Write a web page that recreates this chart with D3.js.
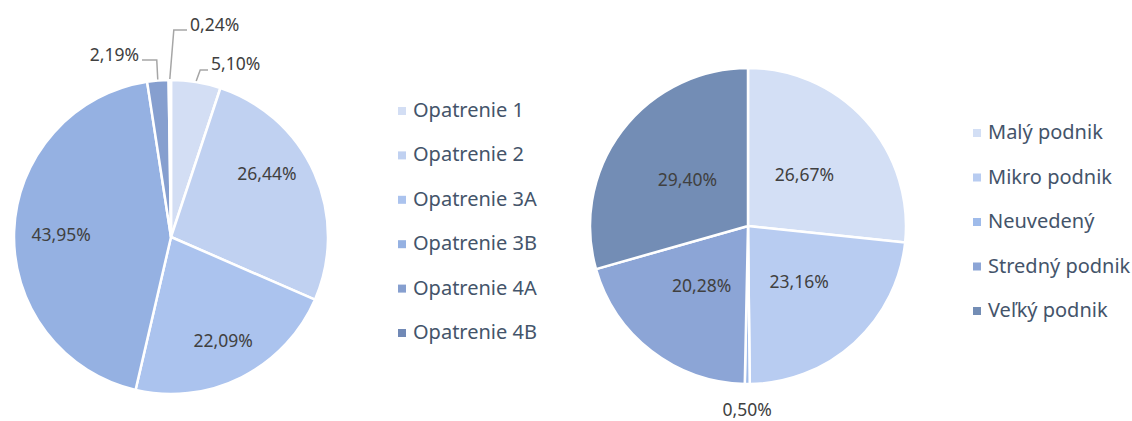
<!DOCTYPE html>
<html>
<head>
<meta charset="utf-8">
<script src="https://cdn.jsdelivr.net/npm/d3@7"></script>
<style>
  body { margin: 0; background: #fff; }
  text { font-family: "Noto Sans", "Open Sans", sans-serif; }
  .lbl { fill: #404040; font-size: 17.5px; }
  .leg { fill: #44546a; font-size: 20px; }
  .leader { stroke: #a6a6a6; stroke-width: 1.5; fill: none; }
</style>
</head>
<body>
<script>
var w = 1132;
var h = 421;

// left chart
var measures = ["Opatrenie 1", "Opatrenie 2", "Opatrenie 3A", "Opatrenie 3B", "Opatrenie 4A", "Opatrenie 4B"];
var measureShares = [5.10, 26.44, 22.09, 43.95, 2.19, 0.24];
var measureColors = ["#d3def4", "#c0d1f1", "#abc3ee", "#95b1e2", "#869fcf", "#7189b6"];

// right chart
var companies = ["Malý podnik", "Mikro podnik", "Neuvedený", "Stredný podnik", "Veľký podnik"];
var companyShares = [26.67, 23.16, 0.50, 20.28, 29.40];
var companyColors = ["#d3dff5", "#b8ccf1", "#9fbbea", "#8ca5d6", "#738db5"];

// outside label layout (leader line elbow + direction) for thin slices
var outside = {
    "Opatrenie 1": { ey: 70, ex: 208, dir: 1, dy: 64 },
    "Opatrenie 4A": { ey: 60, ex: 142, dir: -1, dy: 55 },
    "Opatrenie 4B": { ey: 30, ex: 187, dir: 1, dy: 25 }
};
// best-fit nudges for inside labels
var nudge = { "Opatrenie 2": [-10, -16], "Opatrenie 3B": [6, 2] };

var svg = d3.select("body")
    .append("svg")
    .attr("width", w)
    .attr("height", h);

function fmt(v) {
    return v.toFixed(2).replace(".", ",") + "%";
}

function pieChart(cats, vals, colors, cx, cy, r, labelR, legendX, legendY, legendStep) {
    var data = cats.map(function(c, i) { return { cat: c, value: vals[i], color: colors[i] }; });
    var pie = d3.pie().sort(null).value(function(d) { return d.value; });
    var arcs = pie(data);
    var arc = d3.arc().innerRadius(0).outerRadius(r);
    var labelArc = d3.arc().innerRadius(labelR).outerRadius(labelR);
    var edgeArc = d3.arc().innerRadius(r + 1).outerRadius(r + 1);

    var g = svg.append("g").attr("transform", "translate(" + cx + "," + cy + ")");

    g.selectAll("path.slice")
        .data(arcs)
        .enter()
        .append("path")
        .attr("class", "slice")
        .attr("d", arc)
        .attr("fill", function(d) { return d.data.color; })
        .attr("stroke", "#fff")
        .attr("stroke-width", 2.5)
        .attr("stroke-linejoin", "round");

    arcs.forEach(function(d) {
        var o = outside[d.data.cat];
        if (o) {
            var p = edgeArc.centroid(d);
            var ey = o.ey - cy;
            var ex = o.ex - cx;
            var kx = p[0] + (o.dir > 0 ? 4 : -1);
            g.append("path")
                .attr("class", "leader")
                .attr("d", "M" + p[0] + "," + p[1] + "L" + kx + "," + ey + "L" + ex + "," + ey);
            g.append("text")
                .attr("class", "lbl")
                .attr("x", ex + o.dir * 3)
                .attr("y", o.dy - cy)
                .attr("dy", "0.35em")
                .attr("text-anchor", o.dir > 0 ? "start" : "end")
                .text(fmt(d.data.value));
        } else if (d.data.value < 2) {
            var q = d3.arc().innerRadius(r + 26).outerRadius(r + 26).centroid(d);
            g.append("text")
                .attr("class", "lbl")
                .attr("x", q[0])
                .attr("y", q[1])
                .attr("dy", "0.35em")
                .attr("text-anchor", "middle")
                .text(fmt(d.data.value));
        } else {
            var c = labelArc.centroid(d);
            var n = nudge[d.data.cat] || [0, 0];
            g.append("text")
                .attr("class", "lbl")
                .attr("x", c[0] + n[0])
                .attr("y", c[1] + n[1])
                .attr("dy", "0.35em")
                .attr("text-anchor", "middle")
                .text(fmt(d.data.value));
        }
    });

    var leg = svg.append("g").attr("transform", "translate(" + legendX + "," + legendY + ")");
    var item = leg.selectAll("g")
        .data(data)
        .enter()
        .append("g")
        .attr("transform", function(d, i) { return "translate(0," + (i * legendStep) + ")"; });
    item.append("rect")
        .attr("x", 0)
        .attr("y", -3)
        .attr("width", 8)
        .attr("height", 8)
        .attr("fill", function(d) { return d.color; });
    item.append("text")
        .attr("class", "leg")
        .attr("x", 15)
        .attr("y", 0)
        .attr("dy", "0.35em")
        .text(function(d) { return d.cat; });
}

pieChart(measures, measureShares, measureColors, 171, 237, 157, 116, 398, 110, 44.4);
pieChart(companies, companyShares, companyColors, 748, 226, 158, 76, 973, 132, 44.5);
</script>
</body>
</html>
